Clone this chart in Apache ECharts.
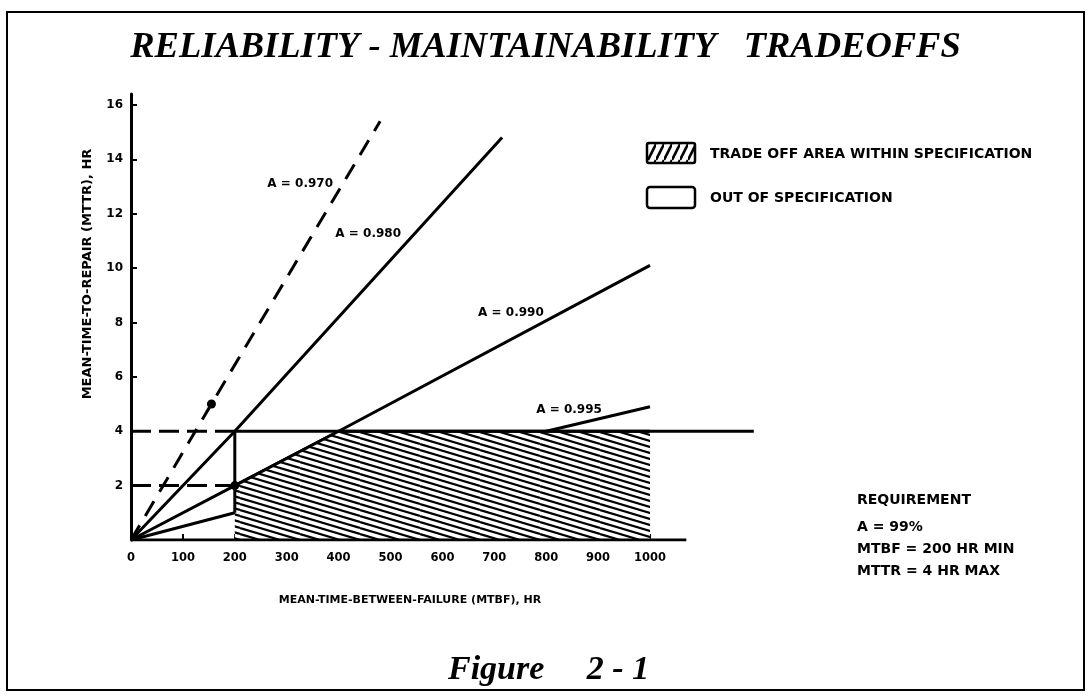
<!DOCTYPE html>
<html lang="en">
<head>
<meta charset="UTF-8">
<title>Reliability - Maintainability Tradeoffs</title>
<script src="https://cdn.jsdelivr.net/npm/echarts@6/dist/echarts.min.js"></script>
<style>
  html, body { margin: 0; padding: 0; background: #fff; }
  #main { width: 1091px; height: 696px; }
</style>
</head>
<body>
<div id="main"></div>
<script>
// tick labels
const xTicks = [0, 100, 200, 300, 400, 500, 600, 700, 800, 900, 1000];
const yTicks = [2, 4, 6, 8, 10, 12, 14, 16];

// availability lines, points are [MTBF, MTTR]
const lineA970 = [[0, 0], [155, 5], [480, 15.4]];
const lineA980 = [[0, 0], [200, 4], [715, 14.8]];
const lineA990 = [[0, 0], [200, 2], [400, 4], [1000, 10.1]];
const lineA995 = [[0, 0], [200, 1], [800, 4], [1000, 4.9]];

// requirement limits
const mttrGuide = [[0, 4], [200, 4]];
const halfGuide = [[0, 2], [200, 2]];
const mttrMax = [[200, 4], [1200, 4]];
const mtbfMin = [[200, 4], [200, 1]];
const tradeoffArea = [[200, 2], [400, 4], [1000, 4]];
const markedPoints = [[155, 5], [200, 2]];
// x axis line runs a little past 1000
const xBaseline = [[0, 0], [1070, 0]];

const curveLabels = [
    { name: 'A = 0.970', value: [326, 13.1] },
    { name: 'A = 0.980', value: [457, 11.25] },
    { name: 'A = 0.990', value: [732, 8.35] },
    { name: 'A = 0.995', value: [844, 4.78] }
];

const legendTexts = ['TRADE OFF AREA WITHIN SPECIFICATION', 'OUT OF SPECIFICATION'];
const requirementTexts = ['REQUIREMENT', 'A = 99%', 'MTBF = 200 HR MIN', 'MTTR = 4 HR MAX'];

// diagonal hatch tile
function makeHatch(w, h, rise, lw) {
    const c = document.createElement('canvas');
    c.width = w;
    c.height = h;
    const ctx = c.getContext('2d');
    ctx.fillStyle = '#fff';
    ctx.fillRect(0, 0, w, h);
    ctx.strokeStyle = '#000';
    ctx.lineWidth = lw;
    for (let k = -8; k <= 8; k++) {
        ctx.beginPath();
        ctx.moveTo(0, k * h);
        ctx.lineTo(w, k * h + rise);
        ctx.stroke();
    }
    return c;
}
const plotHatch = makeHatch(60, 6, 18, 2.2);
const boxHatch = makeHatch(8, 16, -16, 2.6);

const labelFont = 'DejaVu Sans';
const black = '#000';
const textFont = 'bold 14px "DejaVu Sans"';

const option = {
    animation: false,
    backgroundColor: '#fff',
    title: [
        {
            text: 'RELIABILITY - MAINTAINABILITY   TRADEOFFS',
            left: 'center',
            top: 24,
            textStyle: {
                fontFamily: 'Liberation Serif',
                fontStyle: 'italic',
                fontWeight: 'bold',
                fontSize: 36.5,
                color: black
            }
        },
        {
            text: 'Figure     2 - 1',
            left: 443,
            top: 648,
            textStyle: {
                fontFamily: 'Liberation Serif',
                fontStyle: 'italic',
                fontWeight: 'bold',
                fontSize: 34,
                color: black
            }
        }
    ],
    grid: { left: 131, right: 332, top: 94, bottom: 156 },
    xAxis: {
        type: 'value',
        min: 0,
        max: 1210,
        name: 'MEAN-TIME-BETWEEN-FAILURE (MTBF), HR',
        nameLocation: 'middle',
        nameGap: 55,
        nameTextStyle: { fontFamily: labelFont, fontWeight: 'bold', fontSize: 11, color: black, padding: [0, 70, 0, 0] },
        axisLine: { show: false },
        axisTick: { inside: true, length: 6, customValues: xTicks, lineStyle: { color: black, width: 2 } },
        axisLabel: {
            customValues: xTicks,
            margin: 12,
            formatter: function (v) { return String(v); },
            fontFamily: labelFont, fontWeight: 'bold', fontSize: 11.5, color: black
        },
        splitLine: { show: false }
    },
    yAxis: {
        type: 'value',
        min: 0,
        max: 16.4,
        name: 'MEAN-TIME-TO-REPAIR (MTTR), HR',
        nameLocation: 'middle',
        nameGap: 37,
        nameTextStyle: { fontFamily: labelFont, fontWeight: 'bold', fontSize: 13, color: black, padding: [0, 0, 0, 86] },
        axisLine: { lineStyle: { color: black, width: 3 } },
        axisTick: { inside: true, length: 6, customValues: yTicks, lineStyle: { color: black, width: 2 } },
        axisLabel: { customValues: yTicks, margin: 8, fontFamily: labelFont, fontWeight: 'bold', fontSize: 12, color: black },
        splitLine: { show: false }
    },
    graphic: [
        {
            type: 'rect',
            shape: { x: 7, y: 12, width: 1077, height: 678 },
            style: { fill: 'none', stroke: black, lineWidth: 2 },
            silent: true
        },
        {
            type: 'rect',
            shape: { x: 647, y: 143, width: 48, height: 20, r: 2 },
            style: { fill: { image: boxHatch, repeat: 'repeat' }, stroke: black, lineWidth: 2.5 }
        },
        {
            type: 'rect',
            shape: { x: 647, y: 187, width: 48, height: 21, r: 3 },
            style: { fill: '#fff', stroke: black, lineWidth: 2.5 }
        },
        { type: 'text', x: 710, y: 154, style: { text: legendTexts[0], fill: black, font: textFont, verticalAlign: 'middle' } },
        { type: 'text', x: 710, y: 198, style: { text: legendTexts[1], fill: black, font: textFont, verticalAlign: 'middle' } },
        { type: 'text', x: 857, y: 500, style: { text: requirementTexts[0], fill: black, font: textFont, verticalAlign: 'middle' } },
        { type: 'text', x: 857, y: 527, style: { text: requirementTexts[1], fill: black, font: textFont, verticalAlign: 'middle' } },
        { type: 'text', x: 857, y: 549, style: { text: requirementTexts[2], fill: black, font: textFont, verticalAlign: 'middle' } },
        { type: 'text', x: 857, y: 571, style: { text: requirementTexts[3], fill: black, font: textFont, verticalAlign: 'middle' } }
    ],
    series: [
        {
            name: 'X axis',
            type: 'line',
            data: xBaseline,
            symbol: 'none',
            z: 5,
            silent: true,
            lineStyle: { color: black, width: 3 }
        },
        {
            name: 'A = 0.995',
            type: 'line',
            data: lineA995,
            symbol: 'none',
            z: 2,
            lineStyle: { color: black, width: 3 }
        },
        {
            name: 'A = 0.990',
            type: 'line',
            data: lineA990,
            symbol: 'none',
            z: 2,
            lineStyle: { color: black, width: 3 }
        },
        {
            name: 'Trade-off area',
            type: 'line',
            data: tradeoffArea,
            symbol: 'none',
            z: 3,
            lineStyle: { color: black, width: 3 },
            areaStyle: { color: { image: plotHatch, repeat: 'repeat' }, opacity: 1 }
        },
        {
            name: 'A = 0.980',
            type: 'line',
            data: lineA980,
            symbol: 'none',
            z: 4,
            lineStyle: { color: black, width: 3 }
        },
        {
            name: 'A = 0.970',
            type: 'line',
            data: lineA970,
            symbol: 'none',
            z: 4,
            lineStyle: { color: black, width: 3, type: [17, 11] }
        },
        {
            name: 'MTTR guide',
            type: 'line',
            data: mttrGuide,
            symbol: 'none',
            z: 4,
            lineStyle: { color: black, width: 3, type: [20, 8] }
        },
        {
            name: 'Half guide',
            type: 'line',
            data: halfGuide,
            symbol: 'none',
            z: 4,
            lineStyle: { color: black, width: 3, type: [20, 8] }
        },
        {
            name: 'MTTR max',
            type: 'line',
            data: mttrMax,
            symbol: 'none',
            z: 4,
            lineStyle: { color: black, width: 3 }
        },
        {
            name: 'MTBF min',
            type: 'line',
            data: mtbfMin,
            symbol: 'none',
            z: 4,
            lineStyle: { color: black, width: 3 }
        },
        {
            name: 'Points',
            type: 'scatter',
            data: markedPoints,
            symbolSize: 9,
            z: 5,
            itemStyle: { color: black, opacity: 1 }
        },
        {
            name: 'Labels',
            type: 'scatter',
            data: curveLabels,
            symbolSize: 0,
            z: 5,
            silent: true,
            itemStyle: { opacity: 1 },
            label: {
                show: true,
                position: 'inside',
                formatter: '{b}',
                fontFamily: labelFont,
                fontWeight: 'bold',
                fontSize: 12,
                color: black
            }
        }
    ]
};

var myChart = echarts.init(document.getElementById('main'));
myChart.setOption(option);
</script>
</body>
</html>
